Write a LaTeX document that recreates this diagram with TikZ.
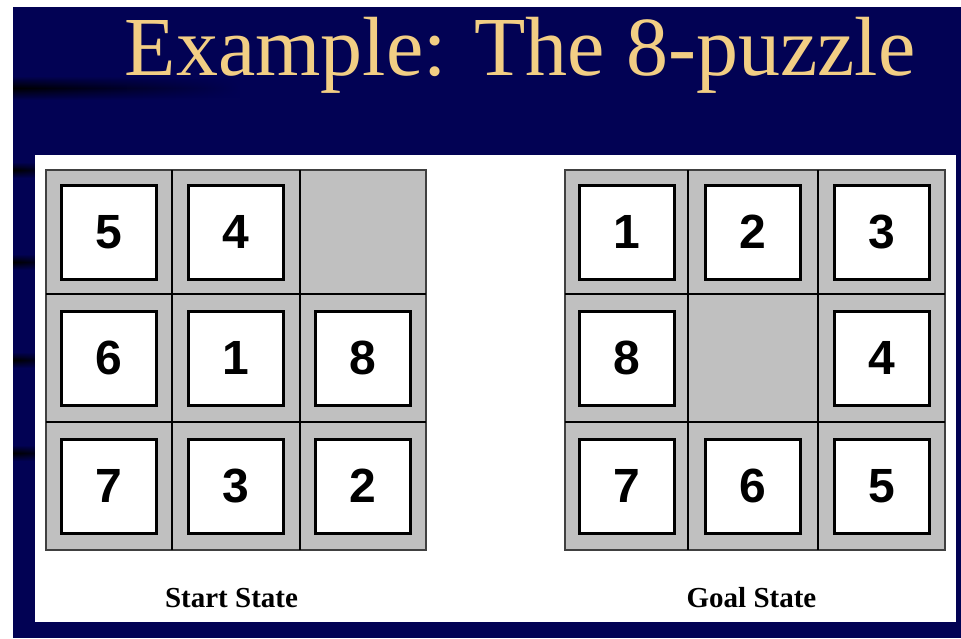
\documentclass[tikz,border=0pt]{standalone}
\usepackage{fontspec}
\setmainfont{Liberation Serif}
\newfontfamily\digitfont{Liberation Sans}
\usetikzlibrary{fadings}
\definecolor{bgnavy}{RGB}{2,2,84}
\definecolor{titlegold}{RGB}{242,206,132}
\definecolor{gridgray}{RGB}{192,192,192}
\tikzfading[name=faderight, left color=transparent!0, right color=transparent!100]
\tikzset{
  tile/.style={draw=black, line width=3pt, fill=white, minimum width=95pt, minimum height=94pt,
    inner sep=0pt, font=\digitfont\bfseries\fontsize{48}{48}\selectfont},
  board/.style={fill=gridgray, draw=black!75, line width=1.3pt},
  gridline/.style={draw=black, line width=1.6pt},
  caption/.style={font=\bfseries\fontsize{29}{30}\selectfont, anchor=base},
  streak/.style={top color=bgnavy, bottom color=bgnavy, middle color=black, path fading=faderight}
}
\begin{document}
\begin{tikzpicture}[x=1pt, y=-1pt]
\useasboundingbox (0,0) rectangle (961,638);
% background
\fill[white] (0,0) rectangle (961,638);
\fill[bgnavy] (13,7) rectangle (961,638);
\shade[streak] (13,76) rectangle (240,100);
\shade[streak] (13,162) rectangle (80,178);
\shade[streak] (13,254) rectangle (80,270);
\shade[streak] (13,352) rectangle (80,368);
\shade[streak] (13,445) rectangle (80,461);
% title
\node[anchor=base, text=titlegold, font=\fontsize{84}{90}\selectfont, inner sep=0pt] (title) at (520,75) {Example: The 8-puzzle};
% white panel
\fill[white] (35,155) rectangle (956,622);
% start board
\path[board] (46,170) rectangle (426,550);
\draw[gridline] (172,170) -- (172,550) (300,170) -- (300,550) (46,294) -- (426,294) (46,422) -- (426,422);
\node[tile] (s5) at (109,232) {5};
\node[tile] (s4) at (236,232) {4};
\node[tile] (s6) at (109,358) {6};
\node[tile] (s1) at (236,358) {1};
\node[tile] (s8) at (363,358) {8};
\node[tile] (s7) at (109,486) {7};
\node[tile] (s3) at (236,486) {3};
\node[tile] (s2) at (363,486) {2};
% goal board
\path[board] (565,170) rectangle (945,550);
\draw[gridline] (688,170) -- (688,550) (818,170) -- (818,550) (565,294) -- (945,294) (565,422) -- (945,422);
\node[tile] (g1) at (626.5,232) {1};
\node[tile] (g2) at (753,232) {2};
\node[tile] (g3) at (881.5,232) {3};
\node[tile] (g8) at (626.5,358) {8};
\node[tile] (g4) at (881.5,358) {4};
\node[tile] (g7) at (626.5,486) {7};
\node[tile] (g6) at (753,486) {6};
\node[tile] (g5) at (881.5,486) {5};
% captions
\node[caption, inner sep=0pt] (startlbl) at (231.5,607) {Start State};
\node[caption, inner sep=0pt] (goallbl) at (751.5,607) {Goal State};
\end{tikzpicture}
\end{document}
